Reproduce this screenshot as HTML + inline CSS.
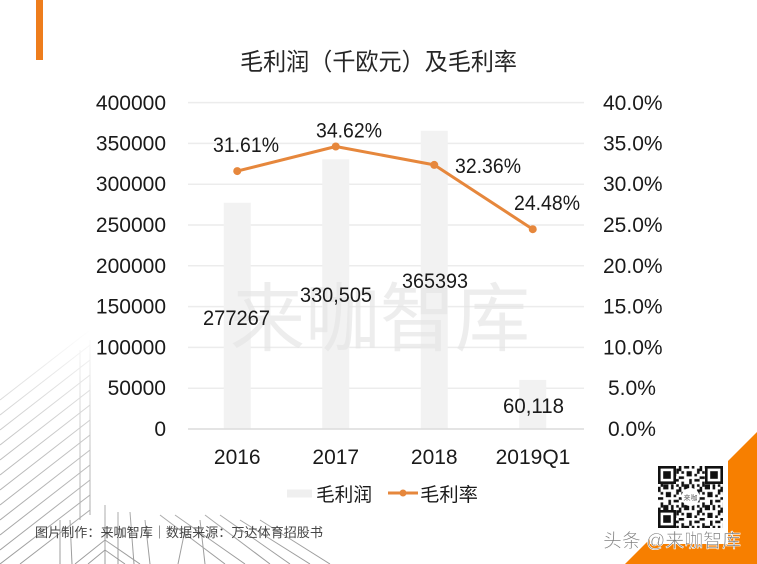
<!DOCTYPE html>
<html><head><meta charset="utf-8"><style>
html,body{margin:0;padding:0;background:#fff;}
svg{display:block;}
text{font-family:"Liberation Sans","Noto Sans CJK SC",sans-serif;}
</style></head><body>
<svg width="757" height="564" viewBox="0 0 757 564" xmlns="http://www.w3.org/2000/svg">
<defs>
<linearGradient id="fade" x1="0" y1="0" x2="0" y2="1">
<stop offset="0" stop-color="#fff" stop-opacity="0"/>
<stop offset="0.5" stop-color="#fff" stop-opacity="0.6"/>
<stop offset="1" stop-color="#fff" stop-opacity="1"/>
</linearGradient>
<mask id="bm"><rect x="0" y="330" width="340" height="234" fill="url(#fade)"/></mask>
<pattern id="qr" width="20.8" height="20.8" patternUnits="userSpaceOnUse" x="658" y="466">
<rect x="0" y="0" width="2.6" height="5.2" fill="#111"/><rect x="5.2" y="0" width="5.2" height="2.6" fill="#111"/>
<rect x="13" y="0" width="2.6" height="2.6" fill="#111"/><rect x="18.2" y="2.6" width="2.6" height="5.2" fill="#111"/>
<rect x="2.6" y="5.2" width="2.6" height="2.6" fill="#111"/><rect x="7.8" y="5.2" width="5.2" height="5.2" fill="#111"/>
<rect x="15.6" y="7.8" width="2.6" height="2.6" fill="#111"/><rect x="0" y="10.4" width="5.2" height="2.6" fill="#111"/>
<rect x="10.4" y="13" width="2.6" height="5.2" fill="#111"/><rect x="15.6" y="13" width="5.2" height="2.6" fill="#111"/>
<rect x="2.6" y="15.6" width="2.6" height="5.2" fill="#111"/><rect x="5.2" y="18.2" width="5.2" height="2.6" fill="#111"/>
<rect x="18.2" y="18.2" width="2.6" height="2.6" fill="#111"/><rect x="13" y="18.2" width="2.6" height="2.6" fill="#111"/>
</pattern>
</defs>

<!-- building line art background -->
<g mask="url(#bm)" stroke="#9a9a9a" stroke-width="1" fill="none">
<line x1="0" y1="400" x2="90" y2="330"/><line x1="0" y1="415" x2="90" y2="345"/>
<line x1="0" y1="430" x2="90" y2="360"/><line x1="0" y1="445" x2="90" y2="375"/>
<line x1="0" y1="460" x2="90" y2="390"/><line x1="0" y1="475" x2="90" y2="405"/>
<line x1="0" y1="490" x2="90" y2="420"/><line x1="0" y1="505" x2="90" y2="435"/>
<line x1="0" y1="520" x2="90" y2="450"/><line x1="0" y1="535" x2="90" y2="465"/>
<line x1="0" y1="550" x2="90" y2="480"/><line x1="0" y1="564" x2="90" y2="495"/>
<line x1="20" y1="564" x2="90" y2="510"/>
<line x1="90" y1="340" x2="90" y2="515"/><line x1="80" y1="350" x2="80" y2="520"/>
<line x1="60" y1="520" x2="60" y2="564"/><line x1="70" y1="520" x2="72" y2="564"/>
<line x1="75" y1="564" x2="105" y2="540"/><line x1="105" y1="540" x2="140" y2="564"/>
<line x1="88" y1="564" x2="105" y2="550"/><line x1="105" y1="550" x2="125" y2="564"/>
<line x1="105" y1="505" x2="105" y2="564"/><line x1="118" y1="512" x2="118" y2="564"/>
<line x1="130" y1="512" x2="134" y2="564"/><line x1="145" y1="520" x2="150" y2="564"/>
<line x1="160" y1="515" x2="225" y2="564"/><line x1="175" y1="515" x2="245" y2="564"/>
<line x1="205" y1="515" x2="270" y2="564"/><line x1="220" y1="515" x2="290" y2="564"/>
<line x1="240" y1="520" x2="310" y2="564"/><line x1="260" y1="520" x2="330" y2="564"/>
<line x1="200" y1="520" x2="205" y2="564"/><line x1="185" y1="530" x2="178" y2="564"/>
</g>

<!-- orange top-left bar -->
<rect x="36" y="0" width="7" height="60" fill="#ee7d1c"/>

<!-- title -->
<text x="240" y="70" font-size="24" fill="#262626" textLength="277" lengthAdjust="spacingAndGlyphs">毛利润（千欧元）及毛利率</text>

<!-- gridlines -->
<g stroke="#ececec" stroke-width="1.5">
<line x1="188" y1="102.6" x2="584" y2="102.6"/>
<line x1="188" y1="143.4" x2="584" y2="143.4"/>
<line x1="188" y1="184.2" x2="584" y2="184.2"/>
<line x1="188" y1="225" x2="584" y2="225"/>
<line x1="188" y1="265.8" x2="584" y2="265.8"/>
<line x1="188" y1="306.6" x2="584" y2="306.6"/>
<line x1="188" y1="347.4" x2="584" y2="347.4"/>
<line x1="188" y1="388.2" x2="584" y2="388.2"/>
</g>

<!-- bars -->
<g fill="#f2f2f2">
<rect x="223.75" y="202.75" width="27" height="226.25"/>
<rect x="322.25" y="159.3" width="27" height="269.7"/>
<rect x="420.75" y="130.8" width="27" height="298.2"/>
<rect x="519.25" y="379.9" width="27" height="49.1"/>
</g>
<line x1="188" y1="429" x2="584" y2="429" stroke="#dcdcdc" stroke-width="1.5"/>

<!-- watermark -->
<text x="230" y="345" font-size="75" fill="#e6e6e6" fill-opacity="0.7" textLength="300" lengthAdjust="spacingAndGlyphs">来咖智库</text>

<!-- left axis -->
<g font-size="21" fill="#1a1a1a" text-anchor="end">
<text x="166" y="110">400000</text>
<text x="166" y="150.5">350000</text>
<text x="166" y="191.2">300000</text>
<text x="166" y="232">250000</text>
<text x="166" y="272.8">200000</text>
<text x="166" y="313.6">150000</text>
<text x="166" y="354.4">100000</text>
<text x="166" y="395.2">50000</text>
<text x="166" y="436">0</text>
</g>

<!-- right axis -->
<g font-size="21" fill="#1a1a1a">
<text x="603" y="110">40.0%</text>
<text x="603" y="150.5">35.0%</text>
<text x="603" y="191.2">30.0%</text>
<text x="603" y="232">25.0%</text>
<text x="603" y="272.8">20.0%</text>
<text x="603" y="313.6">15.0%</text>
<text x="603" y="354.4">10.0%</text>
<text x="608" y="395.2">5.0%</text>
<text x="608" y="436">0.0%</text>
</g>

<!-- x labels -->
<g font-size="21" fill="#1a1a1a" text-anchor="middle">
<text x="237.25" y="464">2016</text>
<text x="335.75" y="464">2017</text>
<text x="434.25" y="464">2018</text>
<text x="533" y="464">2019Q1</text>
</g>

<!-- line series -->
<polyline points="237.25,171.1 335.75,146.5 434.25,164.9 532.75,229.2" fill="none" stroke="#e6873c" stroke-width="3" stroke-linejoin="round"/>
<g fill="#e6873c">
<circle cx="237.25" cy="171.1" r="4"/>
<circle cx="335.75" cy="146.5" r="4"/>
<circle cx="434.25" cy="164.9" r="4"/>
<circle cx="532.75" cy="229.2" r="4"/>
</g>

<!-- data labels -->
<g font-size="21" fill="#1a1a1a">
<text x="213" y="152" textLength="66" lengthAdjust="spacingAndGlyphs">31.61%</text>
<text x="316" y="137.5" textLength="66" lengthAdjust="spacingAndGlyphs">34.62%</text>
<text x="455" y="173" textLength="66" lengthAdjust="spacingAndGlyphs">32.36%</text>
<text x="514" y="210" textLength="66" lengthAdjust="spacingAndGlyphs">24.48%</text>
<text x="203" y="325" textLength="67" lengthAdjust="spacingAndGlyphs">277267</text>
<text x="300" y="302" textLength="72" lengthAdjust="spacingAndGlyphs">330,505</text>
<text x="402" y="288" textLength="66" lengthAdjust="spacingAndGlyphs">365393</text>
<text x="503" y="413" textLength="61" lengthAdjust="spacingAndGlyphs">60,118</text>
</g>

<!-- legend -->
<rect x="287" y="489.5" width="25" height="8" fill="#efefef"/>
<text x="316" y="501" font-size="19" fill="#1a1a1a" textLength="56" lengthAdjust="spacingAndGlyphs">毛利润</text>
<line x1="388" y1="493" x2="418" y2="493" stroke="#e6873c" stroke-width="3"/>
<circle cx="403" cy="493" r="3.5" fill="#e6873c"/>
<text x="420" y="501" font-size="19" fill="#1a1a1a" textLength="58" lengthAdjust="spacingAndGlyphs">毛利率</text>

<!-- footer -->
<text x="35" y="537" font-size="13" fill="#444" textLength="288" lengthAdjust="spacingAndGlyphs">图片制作：来咖智库｜数据来源：万达体育招股书</text>

<!-- orange corner -->
<polygon points="757,432 757,564 625,564" fill="#f77f00"/>

<!-- QR code -->
<rect x="650" y="458" width="78" height="86" fill="#fff"/>
<rect x="658" y="466" width="65" height="62" fill="url(#qr)"/>
<g fill="#111">
<rect x="658" y="466" width="18" height="18"/><rect x="705" y="466" width="18" height="18"/><rect x="658" y="510" width="18" height="18"/>
</g>
<g fill="#fff">
<rect x="660.6" y="468.6" width="12.8" height="12.8"/><rect x="707.6" y="468.6" width="12.8" height="12.8"/><rect x="660.6" y="512.6" width="12.8" height="12.8"/>
</g>
<g fill="#111">
<rect x="663.2" y="471.2" width="7.6" height="7.6"/><rect x="710.2" y="471.2" width="7.6" height="7.6"/><rect x="663.2" y="515.2" width="7.6" height="7.6"/>
</g>
<circle cx="690.5" cy="497" r="9" fill="#fff"/>
<text x="690.5" y="500" font-size="7" fill="#666" text-anchor="middle">来咖</text>

<!-- toutiao watermark -->
<text x="603" y="547" font-size="19" fill="#7a7a7a" stroke="#fff" stroke-width="0.6" textLength="138" lengthAdjust="spacingAndGlyphs">头条 @来咖智库</text>
</svg>
</body></html>
